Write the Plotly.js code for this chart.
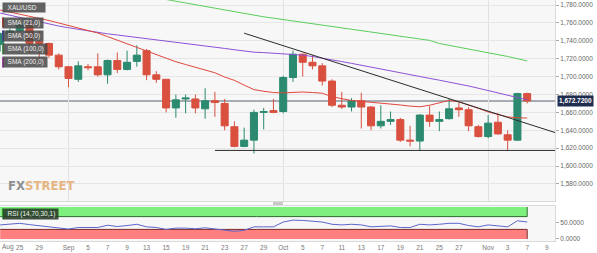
<!DOCTYPE html>
<html><head><meta charset="utf-8">
<script src="https://cdn.plot.ly/plotly-3.0.1.min.js"></script>
<style>html,body{margin:0;padding:0;background:#fff}#chart{width:597px;height:253px}</style>
</head><body><div id="chart"></div>
<script>
// ---- data ----
const dates = ['2022-08-23','2022-08-24','2022-08-25','2022-08-26','2022-08-29','2022-08-30','2022-08-31','2022-09-01','2022-09-02',
'2022-09-05','2022-09-06','2022-09-07','2022-09-08','2022-09-09','2022-09-12','2022-09-13','2022-09-14','2022-09-15','2022-09-16',
'2022-09-19','2022-09-20','2022-09-21','2022-09-22','2022-09-23','2022-09-26','2022-09-27','2022-09-28','2022-09-29','2022-09-30',
'2022-10-03','2022-10-04','2022-10-05','2022-10-06','2022-10-07','2022-10-10','2022-10-11','2022-10-12','2022-10-13','2022-10-14',
'2022-10-17','2022-10-18','2022-10-19','2022-10-20','2022-10-21','2022-10-24','2022-10-25','2022-10-26','2022-10-27','2022-10-28',
'2022-10-31','2022-11-01','2022-11-02','2022-11-03','2022-11-04','2022-11-07'];
const futureDates = ['2022-11-08','2022-11-09','2022-11-10'];
const axisDates = dates.concat(futureDates);

const open  = [1736,1748,1751,1758,1739,1737,1724,1711,1697,1711,1711,1702,1718,1708,1717,1729,1702,1697,1665,1675,1675,1664,1673,1670,1644,1622,1629,1660,1662,1661,1699,1725,1716,1712,1695,1668,1666,1673,1666,1645,1650,1652,1629,1628,1657,1650,1653,1665,1663,1644,1633,1649,1635,1629,1681];
const high  = [1749,1754,1765,1762,1751,1738,1726,1712,1717,1714,1726,1719,1727,1729,1735,1731,1706,1697,1680,1680,1680,1687,1683,1675,1650,1643,1663,1665,1675,1701,1729,1726,1724,1715,1697,1683,1676,1682,1667,1668,1661,1654,1645,1658,1667,1661,1675,1671,1666,1646,1657,1659,1640,1682,1682];
const low   = [1728,1742,1749,1727,1716,1721,1708,1688,1694,1707,1700,1692,1704,1707,1711,1696,1693,1660,1654,1659,1659,1653,1655,1640,1621,1621,1614,1641,1659,1659,1694,1700,1708,1690,1666,1664,1661,1642,1640,1642,1646,1627,1622,1617,1644,1639,1652,1655,1639,1632,1631,1635,1617,1628,1670];
const close = [1748,1751,1758,1737,1737,1724,1711,1698,1712,1710,1702,1718,1708,1716,1724,1702,1697,1665,1674,1676,1665,1673,1671,1645,1622,1629,1660,1661,1660,1699,1725,1716,1712,1695,1668,1666,1673,1666,1645,1650,1652,1629,1628,1657,1650,1652,1664,1663,1645,1633,1648,1636,1629,1681,1672.72];

const sma21 = [1774.4,1772.2,1770.0,1767.8,1765.5,1762.7,1759.9,1757.1,1754.3,1751.5,1748.7,1744.7,1740.7,1736.7,1732.7,1728.7,1724.7,1720.7,1716.6,1713.5,1710.6,1708,1704.3,1699.5,1695.8,1690.5,1685.5,1683.6,1682.2,1681.8,1682.4,1682.8,1682.2,1681.5,1677.5,1675.5,1673.3,1672.3,1671.5,1670.5,1669.3,1668.3,1667,1666.3,1668,1670.5,1673.4,1671.8,1668.5,1664.5,1660.5,1657.5,1655,1654,1653.7];
const sma50 = [1771,1768.5,1766,1763.5,1760.8,1758.4,1756.5,1754.6,1752.7,1750.8,1749,1747.8,1746.5,1745.2,1744,1742.5,1741.2,1740,1738.6,1737.3,1736,1734.5,1733,1731.5,1730,1728.5,1727.3,1726.8,1726.3,1725.8,1725.3,1724,1722.5,1720.8,1718.8,1716.8,1714.8,1712.6,1710.4,1708.2,1706,1704,1702,1700,1698,1696,1694,1692,1689.5,1687,1684.5,1682,1679.3,1676.6,1674];
const sma100Dates = dates.slice(14);
const sma100 = [1792,1790,1788,1786,1784,1782,1780,1778,1776,1774,1772,1770,1768.3,1766.8,1765.3,1763.8,1762.3,1760.8,1759.3,1757.8,1756.3,1754.8,1753.2,1751.6,1750,1748.5,1747,1745.4,1743.8,1742.2,1740.5,1737,1735,1733,1731,1729,1727,1725,1722.5,1720,1717.5];
const rsi = [44,47,49,45,41,38,34,31,36,36,36,43,39,42,46,38,36,30,34,34,32,35,31,26,24,27,38,38,38,53,59,58,56,53,46,44,46,44,38,40.6,41,36,36,46,44,46,49,49,42,38,44,41,38,57,53];

const trendX = ['2022-09-27','2022-11-10'];
const trendY = [1748.5, 1637];
const supportX = ['2022-09-22','2022-11-10'];
const supportY = [1617.5, 1617.5];

const tickDates = ['2022-08-25','2022-08-29','2022-09-01','2022-09-05','2022-09-07','2022-09-09','2022-09-13','2022-09-15','2022-09-19','2022-09-21','2022-09-23','2022-09-27','2022-09-29','2022-10-03','2022-10-05','2022-10-07','2022-10-11','2022-10-13','2022-10-17','2022-10-19','2022-10-21','2022-10-25','2022-10-27','2022-11-01','2022-11-03','2022-11-07','2022-11-09'];
const tickText  = ['25','29','Sep','5','7','9','13','15','19','21','23','27','29','Oct','5','7','11','13','17','19','21','25','27','Nov','3','7','9'];
const firstMonthLabel = 'Aug';
const monthDates = ['2022-09-01','2022-10-03','2022-11-01'];

const symbol = 'XAU/USD';
const smaLabels = ['SMA (21,0)','SMA (50,0)','SMA (100,0)','SMA (200,0)'];
const rsiLabel = 'RSI (14,70,30,1)';
const rsiLevels = [0, 30, 70, 100];

// ---- chart ----
const FONT = 'Liberation Sans, Arial, sans-serif';
const lastClose = close[close.length-1];
const fmt = v => v.toLocaleString('en-US',{minimumFractionDigits:4,maximumFractionDigits:4});

const traces = [
  {type:'scatter', mode:'lines', x:dates, y:sma50, xaxis:'x', yaxis:'y', line:{color:'#8d52d6', width:1}, hoverinfo:'skip'},
  {type:'scatter', mode:'lines', x:sma100Dates, y:sma100, xaxis:'x', yaxis:'y', line:{color:'#5ccc5c', width:1}, hoverinfo:'skip'},
  {type:'scatter', mode:'lines', x:dates, y:sma21, xaxis:'x', yaxis:'y', line:{color:'#e0483c', width:1}, hoverinfo:'skip'},
  {type:'scatter', mode:'lines', x:trendX, y:trendY, xaxis:'x', yaxis:'y', line:{color:'#2b2b2b', width:1}, hoverinfo:'skip'},
  {type:'scatter', mode:'lines', x:supportX, y:supportY, xaxis:'x', yaxis:'y', line:{color:'#2b2b2b', width:1}, hoverinfo:'skip'},
  {type:'candlestick', x:dates, open:open, high:high, low:low, close:close, xaxis:'x', yaxis:'y',
   increasing:{line:{color:'#2b8a6f', width:1}, fillcolor:'#2b8a6f'},
   decreasing:{line:{color:'#d9503f', width:1}, fillcolor:'#d9503f'}, whiskerwidth:0, hoverinfo:'skip'},
  {type:'scatter', mode:'lines', x:dates, y:rsi, xaxis:'x2', yaxis:'y2', line:{color:'#5c66cc', width:1}, hoverinfo:'skip'}
];

const H = 241; // plot area height in px
const py = ypx => (H - ypx) / H;
const px = xpx => xpx / 555;

const shapes = [
  {type:'rect', xref:'x2', yref:'y2', x0:0, x1:dates.length-1, y0:rsiLevels[2], y1:rsiLevels[3], fillcolor:'#7ef07e', line:{width:0}, layer:'below'},
  {type:'rect', xref:'x2', yref:'y2', x0:0, x1:dates.length-1, y0:rsiLevels[0], y1:rsiLevels[1], fillcolor:'#ff7f7f', line:{width:0}, layer:'below'},
  {type:'line', xref:'x2', yref:'y2', x0:0, x1:dates.length-1, y0:rsiLevels[2], y1:rsiLevels[2], line:{color:'#2f6b2f', width:1}, layer:'below'},
  {type:'line', xref:'x2', yref:'y2', x0:dates.length-1, x1:dates.length-1, y0:rsiLevels[2], y1:rsiLevels[3], line:{color:'#2f6b2f', width:1}, layer:'below'},
  {type:'line', xref:'x2', yref:'y2', x0:0, x1:dates.length-1, y0:rsiLevels[1], y1:rsiLevels[1], line:{color:'#7a2a2a', width:1}, layer:'below'},
  {type:'line', xref:'x2', yref:'y2', x0:dates.length-1, x1:dates.length-1, y0:rsiLevels[0], y1:rsiLevels[1], line:{color:'#7a2a2a', width:1}, layer:'below'},
  {type:'line', xref:'paper', yref:'y', x0:0, x1:1, y0:lastClose, y1:lastClose, line:{color:'#56616e', width:1}, layer:'below'},
  {type:'rect', xref:'paper', yref:'paper', x0:px(273), x1:px(283), y0:py(205), y1:py(202), fillcolor:'#c9c9c9', line:{width:0}}
];

const annotations = [];
function box(text, ycenter, tab) {
  annotations.push({xref:'paper', yref:'paper', x:px(2), y:py(ycenter), xanchor:'left', yanchor:'middle',
    text:text, showarrow:false, align:'left', bgcolor:'rgba(72,72,72,0.85)', borderpad:1,
    font:{family:FONT, size:6.5, color:'#f0f0f0'}});
  if (tab) shapes.push({type:'rect', xref:'paper', yref:'paper', x0:px(2), x1:px(4), y0:py(ycenter+5), y1:py(ycenter-5), fillcolor:tab, line:{width:0}});
}
box('&nbsp;&nbsp;' + symbol + '&nbsp;&nbsp;&nbsp;&nbsp;', 8, null);
const tabs = ['#e8382e','#3a46e8','#3fd84a','#e040e0'];
const centers = [22.5, 35.5, 49, 62.5];
smaLabels.forEach((t,i) => box('&nbsp;&nbsp;' + t + '&nbsp;', centers[i], tabs[i]));
annotations.push({xref:'paper', yref:'paper', x:px(2), y:py(213.5), xanchor:'left', yanchor:'middle',
  text:'&nbsp;&nbsp;' + rsiLabel + '&nbsp;', showarrow:false, align:'left', bgcolor:'rgba(40,58,40,0.88)', borderpad:1,
  font:{family:FONT, size:6.5, color:'#f0f0f0'}});
shapes.push({type:'rect', xref:'paper', yref:'paper', x0:px(2), x1:px(4), y0:py(218.5), y1:py(208.5), fillcolor:'#44e044', line:{width:0}});

annotations.push({xref:'paper', yref:'y', x:1, xshift:2, y:lastClose, xanchor:'left', yanchor:'middle',
  text:'<b>' + fmt(lastClose) + '</b>', showarrow:false, bgcolor:'#1f2d4f', borderpad:1,
  font:{family:FONT, size:6.5, color:'#ffffff'}});
annotations.push({xref:'paper', yref:'paper', x:0, y:py(247.5), xanchor:'left', yanchor:'middle',
  text:firstMonthLabel, showarrow:false, font:{family:FONT, size:6.5, color:'#777'}});
annotations.push({xref:'paper', yref:'paper', x:px(6), y:py(185.5), xanchor:'left', yanchor:'middle',
  text:'<b><span style="color:#8e8e8e">FX</span><span style="color:#e6b583">STREET</span></b>', showarrow:false,
  font:{family:'Liberation Sans Narrow, DejaVu Sans Condensed, Arial Narrow, sans-serif', size:13}});

const layout = {
  width:597, height:253, margin:{l:0, r:42, t:0, b:12},
  paper_bgcolor:'#ffffff', plot_bgcolor:'#f7f7f7', showlegend:false,
  boxgap:0.2, boxgroupgap:0.1,
  font:{family:FONT, size:6.5, color:'#666'},
  xaxis:{type:'category', categoryorder:'array', categoryarray:axisDates, range:[-0.02, 56.85], anchor:'y',
    tickvals:monthDates, showticklabels:false, ticks:'', showgrid:true, gridcolor:'#e1e1e1', gridwidth:1,
    showline:true, linecolor:'#dadada', mirror:true, zeroline:false, rangeslider:{visible:false}},
  xaxis2:{type:'category', categoryorder:'array', categoryarray:axisDates, matches:'x', anchor:'y2',
    tickvals:tickDates, ticktext:tickText, showgrid:false, ticks:'', tickfont:{family:FONT, size:6.5, color:'#777'},
    showline:true, linecolor:'#dadada', mirror:true, zeroline:false},
  yaxis:{domain:[0.166, 1], range:[1561, 1785.6], side:'right', tickformat:',.4f', dtick:20, tick0:0,
    ticks:'outside', ticklen:3, tickcolor:'#aaaaaa', tickfont:{family:FONT, size:6.5, color:'#666'},
    gridcolor:'#e6e6e6', showline:true, linecolor:'#dadada', mirror:true, zeroline:false},
  yaxis2:{domain:[0, 0.1452], range:[-6.25, 103.1], side:'right', tickvals:[0, 50], tickformat:'.4f',
    ticks:'outside', ticklen:3, tickcolor:'#aaaaaa', tickfont:{family:FONT, size:6.5, color:'#666'},
    showgrid:false, showline:true, linecolor:'#dadada', mirror:true, zeroline:false},
  shapes:shapes, annotations:annotations
};
Plotly.newPlot('chart', traces, layout, {staticPlot:true, displayModeBar:false});
</script></body></html>
